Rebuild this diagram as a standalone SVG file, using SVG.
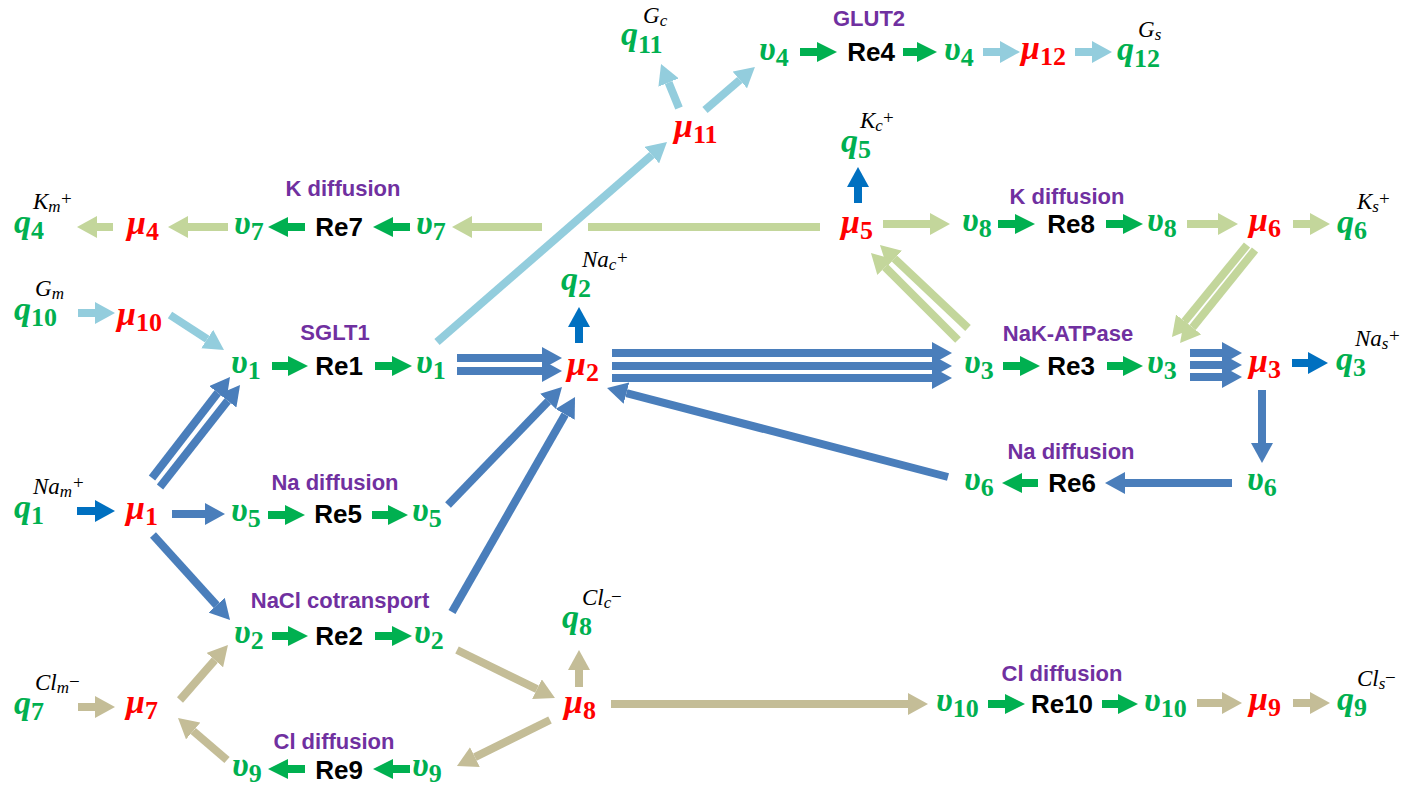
<svg xmlns="http://www.w3.org/2000/svg" width="1403" height="792" viewBox="0 0 1403 792">
<style>
.c{fill:none;stroke-width:8}
.lb{stroke:#93CDDD;marker-end:url(#h-lb)}
.lg{stroke:#C3D69B;marker-end:url(#h-lg)}
.sb{stroke:#4A7EBB;marker-end:url(#h-sb)}
.db{stroke:#0070C0;marker-end:url(#h-db)}
.tn{stroke:#C4BD97;marker-end:url(#h-tn)}
.gn{stroke:#00B050;marker-end:url(#h-gn)}
.nm{marker-end:none}
.m{font-family:"Liberation Serif","DejaVu Serif",serif;font-weight:bold;font-style:italic;font-size:34px}
.g{fill:#00B050}
.r{fill:#FF0000}
.sub{font-style:normal;font-size:26px}
.sup{font-family:"Liberation Serif","DejaVu Serif",serif;font-weight:normal;font-style:italic;font-size:23px;fill:#000}
.ss{font-size:17px}
.pm{font-family:"Liberation Serif","DejaVu Serif",serif;font-weight:normal;font-style:normal;font-size:19px;fill:#000}
.re{font-family:"Liberation Sans",Arial,sans-serif;font-weight:bold;font-size:26px;fill:#000;text-anchor:middle}
.lab{font-family:"Liberation Sans",Arial,sans-serif;font-weight:bold;font-size:22px;fill:#7030A0;text-anchor:middle}
</style>
<defs>
<marker id="h-lb" markerUnits="userSpaceOnUse" markerWidth="20" markerHeight="22" viewBox="0 -11 20 22" refX="0" refY="0" orient="auto"><path d="M0,-11 L20,0 L0,11 z" fill="#93CDDD"/></marker>
<marker id="h-lg" markerUnits="userSpaceOnUse" markerWidth="20" markerHeight="22" viewBox="0 -11 20 22" refX="0" refY="0" orient="auto"><path d="M0,-11 L20,0 L0,11 z" fill="#C3D69B"/></marker>
<marker id="h-sb" markerUnits="userSpaceOnUse" markerWidth="20" markerHeight="22" viewBox="0 -11 20 22" refX="0" refY="0" orient="auto"><path d="M0,-11 L20,0 L0,11 z" fill="#4A7EBB"/></marker>
<marker id="h-db" markerUnits="userSpaceOnUse" markerWidth="20" markerHeight="22" viewBox="0 -11 20 22" refX="0" refY="0" orient="auto"><path d="M0,-11 L20,0 L0,11 z" fill="#0070C0"/></marker>
<marker id="h-tn" markerUnits="userSpaceOnUse" markerWidth="20" markerHeight="22" viewBox="0 -11 20 22" refX="0" refY="0" orient="auto"><path d="M0,-11 L20,0 L0,11 z" fill="#C4BD97"/></marker>
<marker id="h-gn" markerUnits="userSpaceOnUse" markerWidth="20" markerHeight="22" viewBox="0 -11 20 22" refX="0" refY="0" orient="auto"><path d="M0,-10 L20,0 L0,10 z" fill="#00B050"/></marker>
</defs>
<rect width="1403" height="792" fill="#FFFFFF"/>

<g id="connectors">
  <!-- light blue (glucose) -->
  <line class="c lb" x1="78" y1="313" x2="95" y2="313"/>
  <line class="c lb" x1="170" y1="315" x2="207.2" y2="339.1"/>
  <line class="c lb" x1="437" y1="342" x2="651.9" y2="155.1"/>
  <line class="c lb" x1="679" y1="108" x2="668.6" y2="82.5"/>
  <line class="c lb" x1="705" y1="110" x2="739.8" y2="80"/>
  <line class="c lb" x1="983" y1="52" x2="1000" y2="52"/>
  <line class="c lb" x1="1075" y1="52" x2="1092" y2="52"/>
  <!-- light green (K) -->
  <line class="c lg" x1="113" y1="227" x2="97" y2="227"/>
  <line class="c lg" x1="228" y1="227" x2="188" y2="227"/>
  <line class="c lg nm" x1="820" y1="227" x2="588" y2="227"/>
  <line class="c lg" x1="542" y1="227" x2="472" y2="227"/>
  <line class="c lg" x1="883" y1="224" x2="930" y2="224"/>
  <line class="c lg" x1="1187" y1="224" x2="1218" y2="224"/>
  <line class="c lg" x1="1293" y1="224" x2="1310" y2="224"/>
  <line class="c lg" x1="968" y1="328" x2="894.5" y2="258.7"/>
  <line class="c lg" x1="958" y1="340" x2="885.1" y2="267.1"/>
  <line class="c lg" x1="1247" y1="245" x2="1184.6" y2="321.5"/>
  <line class="c lg" x1="1255" y1="250" x2="1192.6" y2="327.5"/>
  <!-- steel blue (Na) -->
  <line class="c sb" x1="172" y1="514" x2="205" y2="514"/>
  <line class="c sb" x1="152" y1="478" x2="217.8" y2="392.8"/>
  <line class="c sb" x1="160" y1="487" x2="227.7" y2="400.7"/>
  <line class="c sb" x1="153" y1="535" x2="216.6" y2="605.2"/>
  <line class="c sb" x1="457" y1="358" x2="542" y2="358"/>
  <line class="c sb" x1="457" y1="371" x2="542" y2="371"/>
  <line class="c sb" x1="448" y1="505" x2="548.1" y2="401.4"/>
  <line class="c sb" x1="452" y1="612" x2="565.1" y2="414.4"/>
  <line class="c sb" x1="612" y1="353" x2="932" y2="353"/>
  <line class="c sb" x1="612" y1="366" x2="932" y2="366"/>
  <line class="c sb" x1="612" y1="378" x2="932" y2="378"/>
  <line class="c sb" x1="1190" y1="353" x2="1222" y2="353"/>
  <line class="c sb" x1="1190" y1="365" x2="1222" y2="365"/>
  <line class="c sb" x1="1190" y1="377" x2="1222" y2="377"/>
  <line class="c sb" x1="1262" y1="390" x2="1262" y2="443"/>
  <line class="c sb" x1="1232" y1="483" x2="1125" y2="483"/>
  <line class="c sb" x1="948" y1="477" x2="626.4" y2="393.1"/>
  <!-- dark blue -->
  <line class="c db" x1="77" y1="511" x2="95" y2="511"/>
  <line class="c db" x1="579" y1="343" x2="579" y2="327"/>
  <line class="c db" x1="1292" y1="363" x2="1308" y2="363"/>
  <line class="c db" x1="858" y1="203" x2="858" y2="187"/>
  <!-- tan (Cl) -->
  <line class="c tn" x1="78" y1="707" x2="95" y2="707"/>
  <line class="c tn" x1="180" y1="700" x2="214.8" y2="660.1"/>
  <line class="c tn" x1="227" y1="760" x2="193.2" y2="731"/>
  <line class="c tn" x1="457" y1="650" x2="537" y2="689.2"/>
  <line class="c tn" x1="579" y1="687" x2="579" y2="670"/>
  <line class="c tn" x1="611" y1="704" x2="908" y2="704"/>
  <line class="c tn" x1="550" y1="720" x2="474.9" y2="757.1"/>
  <line class="c tn" x1="1197" y1="703" x2="1222" y2="703"/>
  <line class="c tn" x1="1293" y1="703" x2="1310" y2="703"/>
  <!-- green reaction arrows -->
  <line class="c gn" x1="800" y1="52" x2="817" y2="52"/>
  <line class="c gn" x1="903" y1="52" x2="917" y2="52"/>
  <line class="c gn" x1="305" y1="227" x2="288" y2="227"/>
  <line class="c gn" x1="410" y1="227" x2="393" y2="227"/>
  <line class="c gn" x1="998" y1="224" x2="1015" y2="224"/>
  <line class="c gn" x1="1106" y1="224" x2="1123" y2="224"/>
  <line class="c gn" x1="272" y1="366" x2="288" y2="366"/>
  <line class="c gn" x1="375" y1="366" x2="392" y2="366"/>
  <line class="c gn" x1="1003" y1="366" x2="1020" y2="366"/>
  <line class="c gn" x1="1107" y1="366" x2="1123" y2="366"/>
  <line class="c gn" x1="268" y1="515" x2="285" y2="515"/>
  <line class="c gn" x1="372" y1="515" x2="388" y2="515"/>
  <line class="c gn" x1="1038" y1="483" x2="1022" y2="483"/>
  <line class="c gn" x1="272" y1="636" x2="288" y2="636"/>
  <line class="c gn" x1="375" y1="636" x2="392" y2="636"/>
  <line class="c gn" x1="988" y1="704" x2="1005" y2="704"/>
  <line class="c gn" x1="1102" y1="704" x2="1118" y2="704"/>
  <line class="c gn" x1="305" y1="769" x2="288" y2="769"/>
  <line class="c gn" x1="410" y1="769" x2="393" y2="769"/>
</g>

<!-- q nodes -->
<g id="q1"><text class="m g" x="14" y="518">q<tspan class="sub" dy="6">1</tspan><tspan class="sup" x="33" y="494">Na</tspan><tspan class="sup ss" dy="3">m</tspan><tspan class="pm" x="73" y="489">+</tspan></text></g>
<g id="q2"><text class="m g" x="561" y="290">q<tspan class="sub" dy="7">2</tspan><tspan class="sup" x="582" y="267">Na</tspan><tspan class="sup ss" dy="3">c</tspan><tspan class="pm" x="617" y="264">+</tspan></text></g>
<g id="q3"><text class="m g" x="1336" y="370">q<tspan class="sub" dy="6">3</tspan><tspan class="sup" x="1355" y="346">Na</tspan><tspan class="sup ss" dy="3">s</tspan><tspan class="pm" x="1389" y="342">+</tspan></text></g>
<g id="q4"><text class="m g" x="14" y="233">q<tspan class="sub" dy="6">4</tspan><tspan class="sup" x="33" y="209">K</tspan><tspan class="sup ss" dy="3">m</tspan><tspan class="pm" x="61" y="205">+</tspan></text></g>
<g id="q5"><text class="m g" x="841" y="152">q<tspan class="sub" dy="6">5</tspan><tspan class="sup" x="860" y="128">K</tspan><tspan class="sup ss" dy="3">c</tspan><tspan class="pm" x="883" y="124">+</tspan></text></g>
<g id="q6"><text class="m g" x="1337" y="233">q<tspan class="sub" dy="6">6</tspan><tspan class="sup" x="1357" y="209">K</tspan><tspan class="sup ss" dy="3">s</tspan><tspan class="pm" x="1379" y="205">+</tspan></text></g>
<g id="q7"><text class="m g" x="14" y="714">q<tspan class="sub" dy="6">7</tspan><tspan class="sup" x="35" y="690">Cl</tspan><tspan class="sup ss" dy="3">m</tspan><tspan class="pm" x="69" y="688">−</tspan></text></g>
<g id="q8"><text class="m g" x="562" y="628">q<tspan class="sub" dy="7">8</tspan><tspan class="sup" x="582" y="605">Cl</tspan><tspan class="sup ss" dy="3">c</tspan><tspan class="pm" x="611" y="603">−</tspan></text></g>
<g id="q9"><text class="m g" x="1337" y="710">q<tspan class="sub" dy="6">9</tspan><tspan class="sup" x="1357" y="686">Cl</tspan><tspan class="sup ss" dy="3">s</tspan><tspan class="pm" x="1385" y="684">−</tspan></text></g>
<g id="q10"><text class="m g" x="14" y="320">q<tspan class="sub" dy="6">10</tspan><tspan class="sup" x="35" y="296">G</tspan><tspan class="sup ss" dy="3">m</tspan></text></g>
<g id="q11"><text class="m g" x="621" y="45">q<tspan class="sub" dy="8">11</tspan><tspan class="sup" x="643" y="23">G</tspan><tspan class="sup ss" dy="3">c</tspan></text></g>
<g id="q12"><text class="m g" x="1117" y="60">q<tspan class="sub" dy="7">12</tspan><tspan class="sup" x="1138" y="37">G</tspan><tspan class="sup ss" dy="3">s</tspan></text></g>

<!-- mu nodes -->
<g id="mu1"><text class="m r" x="126" y="519">μ<tspan class="sub" dy="6">1</tspan></text></g>
<g id="mu2"><text class="m r" x="567" y="375">μ<tspan class="sub" dy="6">2</tspan></text></g>
<g id="mu3"><text class="m r" x="1249" y="372">μ<tspan class="sub" dy="6">3</tspan></text></g>
<g id="mu4"><text class="m r" x="127" y="234">μ<tspan class="sub" dy="6">4</tspan></text></g>
<g id="mu5"><text class="m r" x="841" y="233">μ<tspan class="sub" dy="6">5</tspan></text></g>
<g id="mu6"><text class="m r" x="1249" y="231">μ<tspan class="sub" dy="6">6</tspan></text></g>
<g id="mu7"><text class="m r" x="126" y="713">μ<tspan class="sub" dy="6">7</tspan></text></g>
<g id="mu8"><text class="m r" x="564" y="713">μ<tspan class="sub" dy="6">8</tspan></text></g>
<g id="mu9"><text class="m r" x="1249" y="710">μ<tspan class="sub" dy="6">9</tspan></text></g>
<g id="mu10"><text class="m r" x="117" y="325">μ<tspan class="sub" dy="6">10</tspan></text></g>
<g id="mu11"><text class="m r" x="674" y="137">μ<tspan class="sub" dy="6">11</tspan></text></g>
<g id="mu12"><text class="m r" x="1021" y="59">μ<tspan class="sub" dy="6">12</tspan></text></g>

<!-- reaction 1: SGLT1 -->
<g id="re1"><text class="lab" x="335" y="340">SGLT1</text><text class="m g" x="231" y="373">υ<tspan class="sub" dy="6">1</tspan></text><text class="re" x="339" y="375">Re1</text><text class="m g" x="416" y="373">υ<tspan class="sub" dy="6">1</tspan></text></g>
<!-- reaction 2: NaCl cotransport -->
<g id="re2"><text class="lab" x="340" y="608">NaCl cotransport</text><text class="m g" x="234" y="643">υ<tspan class="sub" dy="6">2</tspan></text><text class="re" x="339" y="645">Re2</text><text class="m g" x="414" y="643">υ<tspan class="sub" dy="6">2</tspan></text></g>
<!-- reaction 3: NaK-ATPase -->
<g id="re3"><text class="lab" x="1068" y="341">NaK-ATPase</text><text class="m g" x="964" y="373">υ<tspan class="sub" dy="6">3</tspan></text><text class="re" x="1071" y="375">Re3</text><text class="m g" x="1147" y="373">υ<tspan class="sub" dy="6">3</tspan></text></g>
<!-- reaction 4: GLUT2 -->
<g id="re4"><text class="lab" x="869" y="26">GLUT2</text><text class="m g" x="759" y="60">υ<tspan class="sub" dy="6">4</tspan></text><text class="re" x="871" y="61">Re4</text><text class="m g" x="944" y="60">υ<tspan class="sub" dy="6">4</tspan></text></g>
<!-- reaction 5: Na diffusion -->
<g id="re5"><text class="lab" x="335" y="490">Na diffusion</text><text class="m g" x="231" y="521">υ<tspan class="sub" dy="6">5</tspan></text><text class="re" x="338" y="523">Re5</text><text class="m g" x="412" y="521">υ<tspan class="sub" dy="6">5</tspan></text></g>
<!-- reaction 6: Na diffusion -->
<g id="re6"><text class="lab" x="1071" y="459">Na diffusion</text><text class="m g" x="964" y="490">υ<tspan class="sub" dy="6">6</tspan></text><text class="re" x="1072" y="492">Re6</text><text class="m g" x="1247" y="490">υ<tspan class="sub" dy="6">6</tspan></text></g>
<!-- reaction 7: K diffusion -->
<g id="re7"><text class="lab" x="343" y="196">K diffusion</text><text class="m g" x="234" y="234">υ<tspan class="sub" dy="6">7</tspan></text><text class="re" x="339" y="236">Re7</text><text class="m g" x="416" y="234">υ<tspan class="sub" dy="6">7</tspan></text></g>
<!-- reaction 8: K diffusion -->
<g id="re8"><text class="lab" x="1067" y="204">K diffusion</text><text class="m g" x="962" y="231">υ<tspan class="sub" dy="6">8</tspan></text><text class="re" x="1071" y="233">Re8</text><text class="m g" x="1147" y="231">υ<tspan class="sub" dy="6">8</tspan></text></g>
<!-- reaction 9: Cl diffusion -->
<g id="re9"><text class="lab" x="334" y="749">Cl diffusion</text><text class="m g" x="232" y="776">υ<tspan class="sub" dy="6">9</tspan></text><text class="re" x="339" y="779">Re9</text><text class="m g" x="412" y="776">υ<tspan class="sub" dy="6">9</tspan></text></g>
<!-- reaction 10: Cl diffusion -->
<g id="re10"><text class="lab" x="1062" y="681">Cl diffusion</text><text class="m g" x="936" y="711">υ<tspan class="sub" dy="6">10</tspan></text><text class="re" x="1062" y="713">Re10</text><text class="m g" x="1144" y="711">υ<tspan class="sub" dy="6">10</tspan></text></g>
</svg>
